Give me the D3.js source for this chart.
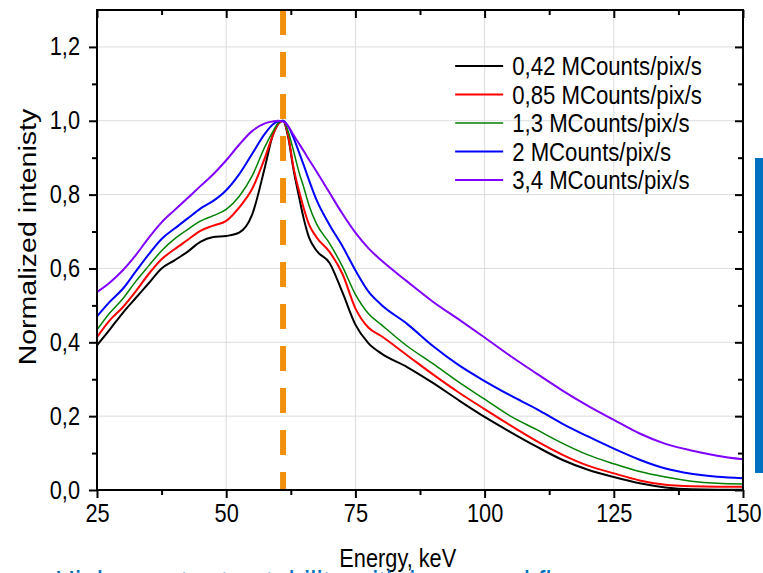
<!DOCTYPE html>
<html>
<head>
<meta charset="utf-8">
<script src="https://cdn.jsdelivr.net/npm/d3@7"></script>
<style>
    body { margin: 0; background: #fff; overflow: hidden; }
    svg { display: block; font-family: Arial, "Liberation Sans", sans-serif; }
    .grid line { stroke: #dcdcdc; stroke-width: 1; }
    .axis path, .axis line { stroke: #000; stroke-width: 2; }
    .tick-label { font-size: 25px; fill: #000; }
</style>
</head>
<body>
<svg id="chart" width="763" height="573"></svg>
<script>
// energy grid, keV
const energies = [25, 27.5, 30, 32.5, 35, 37.5, 40, 42.5, 45, 47.5, 50, 52.5, 55, 57.5, 59, 60, 61, 62, 63, 64, 65, 66, 67.5, 70, 72.5, 75, 77.5, 80, 85, 90, 95, 100, 105, 110, 115, 120, 125, 130, 135, 140, 145, 150];

const series042 = [0.392, 0.435, 0.48, 0.52, 0.56, 0.60, 0.622, 0.645, 0.672, 0.685, 0.688, 0.697, 0.745, 0.875, 0.96, 0.99, 1.0, 0.955, 0.87, 0.80, 0.735, 0.685, 0.648, 0.615, 0.535, 0.448, 0.398, 0.37, 0.333, 0.29, 0.243, 0.198, 0.157, 0.118, 0.082, 0.055, 0.035, 0.018, 0.007, 0.002, 0.001, 0.001];
const series085 = [0.414, 0.46, 0.495, 0.538, 0.585, 0.625, 0.652, 0.677, 0.702, 0.716, 0.729, 0.765, 0.815, 0.90, 0.96, 0.99, 1.0, 0.96, 0.875, 0.815, 0.763, 0.72, 0.684, 0.645, 0.585, 0.492, 0.44, 0.417, 0.365, 0.313, 0.264, 0.219, 0.175, 0.133, 0.096, 0.066, 0.045, 0.026, 0.014, 0.01, 0.009, 0.009];
const series13 = [0.434, 0.48, 0.518, 0.565, 0.607, 0.648, 0.68, 0.705, 0.728, 0.743, 0.76, 0.795, 0.85, 0.93, 0.97, 0.993, 1.0, 0.97, 0.92, 0.865, 0.82, 0.772, 0.72, 0.668, 0.605, 0.53, 0.478, 0.448, 0.39, 0.342, 0.292, 0.246, 0.2, 0.164, 0.127, 0.095, 0.071, 0.05, 0.035, 0.024, 0.018, 0.016];
const series2 = [0.47, 0.51, 0.545, 0.592, 0.638, 0.68, 0.708, 0.735, 0.762, 0.783, 0.812, 0.855, 0.91, 0.965, 0.99, 0.998, 1.0, 0.985, 0.955, 0.918, 0.88, 0.84, 0.785, 0.718, 0.66, 0.595, 0.538, 0.502, 0.45, 0.39, 0.338, 0.295, 0.256, 0.22, 0.18, 0.145, 0.112, 0.082, 0.058, 0.044, 0.036, 0.032];
const series34 = [0.536, 0.562, 0.595, 0.636, 0.683, 0.725, 0.758, 0.79, 0.823, 0.855, 0.893, 0.935, 0.972, 0.993, 0.998, 1.0, 0.998, 0.985, 0.962, 0.94, 0.918, 0.895, 0.862, 0.805, 0.748, 0.697, 0.655, 0.622, 0.565, 0.51, 0.462, 0.413, 0.363, 0.316, 0.27, 0.228, 0.19, 0.153, 0.125, 0.107, 0.093, 0.083];

const seriesNames = ['0,42 MCounts/pix/s', '0,85 MCounts/pix/s', '1,3 MCounts/pix/s', '2 MCounts/pix/s', '3,4 MCounts/pix/s'];
const seriesValues = [series042, series085, series13, series2, series34];
const seriesColors = ['#000000', '#ff0000', '#008000', '#0000ff', '#8000ff'];
const seriesWidths = [2, 2, 1.5, 2, 2];

const xTicks = [25, 50, 75, 100, 125, 150];
const xMinorTicks = [37.5, 62.5, 87.5, 112.5, 137.5];
const yTicks = [0, 0.2, 0.4, 0.6, 0.8, 1.0, 1.2];
const yMinorTicks = [0.1, 0.3, 0.5, 0.7, 0.9, 1.1];
const peakEnergy = [61];

const margin = { top: 10, right: 20, bottom: 83, left: 97 };
const width = 763 - margin.left - margin.right;
const height = 573 - margin.top - margin.bottom;
const SQUEEZE = 0.87; // the slide text looks horizontally condensed

const svg = d3.select('#chart');
const g = svg.append('g').attr('transform', `translate(${margin.left},${margin.top})`);

const x = d3.scaleLinear().domain([25, 150]).range([0, width]);
const y = d3.scaleLinear().domain([0, 1.3]).range([height, 0]);
const comma = v => d3.format('.1f')(v).replace('.', ',');

/**
 * Squeezes text horizontally while keeping its anchor point
 */
function condense(sel) {
    sel.each(function () {
        const t = d3.select(this);
        const x0 = +t.attr('x') || 0;
        t.attr('x', x0 / SQUEEZE).attr('transform', `scale(${SQUEEZE},1)`);
    });
}

// grid
g.append('g').attr('class', 'grid')
    .selectAll('line').data(xTicks.slice(1, -1)).join('line')
    .attr('x1', d => x(d)).attr('x2', d => x(d))
    .attr('y1', 0).attr('y2', height);
g.append('g').attr('class', 'grid')
    .selectAll('line').data(yTicks.slice(1)).join('line')
    .attr('x1', 0).attr('x2', width)
    .attr('y1', d => y(d)).attr('y2', d => y(d));

// dashed marker line
g.append('g').selectAll('line').data(peakEnergy).join('line')
    .attr('x1', d => x(d)).attr('x2', d => x(d))
    .attr('y1', 0).attr('y2', height)
    .attr('stroke', '#f0900c')
    .attr('stroke-width', 6)
    .attr('stroke-dasharray', '25,17');

// curves
const line = d3.line()
    .x((d, i) => x(energies[i]))
    .y(d => y(d))
    .curve(d3.curveMonotoneX);

g.append('g')
    .selectAll('path').data(seriesValues).join('path')
    .attr('d', d => line(d))
    .attr('fill', 'none')
    .attr('stroke', (d, i) => seriesColors[i])
    .attr('stroke-width', (d, i) => seriesWidths[i])
    .attr('stroke-linejoin', 'round');

// axes: bottom / left outward, top / right inward
function drawAxis(axis, tf) {
    const a = g.append('g').attr('class', 'axis').attr('transform', tf).call(axis);
    a.selectAll('text').attr('class', 'tick-label').call(condense);
    return a;
}
drawAxis(d3.axisBottom(x).tickValues(xTicks).tickSize(8).tickPadding(6).tickFormat(d3.format('d')), `translate(0,${height})`);
drawAxis(d3.axisBottom(x).tickValues(xMinorTicks).tickSize(5).tickFormat(''), `translate(0,${height})`);
drawAxis(d3.axisLeft(y).tickValues(yTicks).tickSize(8).tickPadding(9).tickFormat(comma), null);
drawAxis(d3.axisLeft(y).tickValues(yMinorTicks).tickSize(5).tickFormat(''), null);
drawAxis(d3.axisBottom(x).tickValues(xTicks).tickSize(8).tickFormat(''), null);
drawAxis(d3.axisBottom(x).tickValues(xMinorTicks).tickSize(5).tickFormat(''), null);
drawAxis(d3.axisLeft(y).tickValues(yTicks).tickSize(8).tickFormat(''), `translate(${width},0)`);
drawAxis(d3.axisLeft(y).tickValues(yMinorTicks).tickSize(5).tickFormat(''), `translate(${width},0)`);
g.selectAll('.axis .domain').attr('d', null);
g.append('rect')
    .attr('width', width).attr('height', height)
    .attr('fill', 'none').attr('stroke', '#000').attr('stroke-width', 2);

// axis titles
svg.append('g')
    .attr('transform', `translate(${margin.left + x(83.2)},567)`)
    .append('text')
    .attr('text-anchor', 'middle')
    .style('font-size', '25px')
    .text('Energy, keV')
    .call(condense);
svg.append('text')
    .attr('transform', `translate(36,${margin.top + y(0.685)}) rotate(-90) scale(1,${SQUEEZE})`)
    .attr('text-anchor', 'middle')
    .style('font-size', '28.5px')
    .text('Normalized intenisty');

// legend
const legend = g.append('g').attr('transform', `translate(${x(94.3)},56)`);
const rows = legend.selectAll('g').data(seriesNames).join('g')
    .attr('transform', (d, i) => `translate(0,${i * 28.5})`);
rows.append('line')
    .attr('x1', 0).attr('x2', 48)
    .attr('stroke', (d, i) => seriesColors[i])
    .attr('stroke-width', (d, i) => seriesWidths[i]);
rows.append('text')
    .attr('x', 57).attr('dy', '0.36em')
    .style('font-size', '25.5px')
    .text(d => d)
    .call(condense);

// slide decoration: blue side bar and cut-off caption
svg.append('rect')
    .attr('x', 755).attr('y', 158).attr('width', 8).attr('height', 315)
    .attr('fill', '#0070c0');
svg.append('g')
    .attr('transform', 'translate(55,593)')
    .append('text')
    .attr('fill', '#0070c0')
    .style('font-size', '32px')
    .text('High count rate stability with increased flux')
    .call(condense);
</script>
</body>
</html>
